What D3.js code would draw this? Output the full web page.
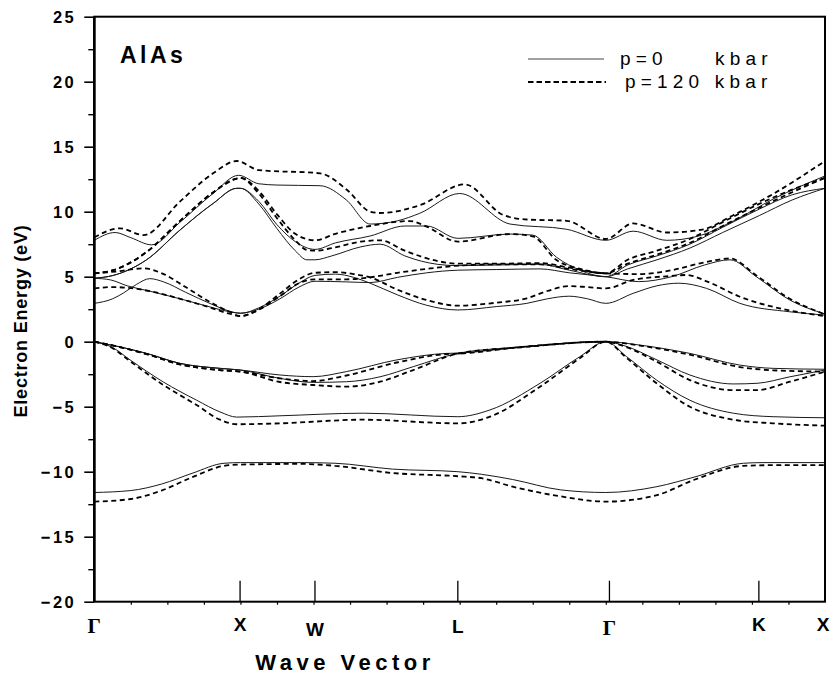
<!DOCTYPE html>
<html>
<head>
<meta charset="utf-8">
<script src="https://cdn.jsdelivr.net/npm/d3@7"></script>
<style>
  body { margin: 0; background: #fff; }
  text { font-family: "Liberation Sans", Arial, sans-serif; }
</style>
</head>
<body>
<script>
// symmetry points along the path (x in path units 0..20)
const kLabels = ["Γ", "X", "W", "L", "Γ", "K", "X"];
const kPos = [0, 3.99, 6.04, 9.95, 14.1, 18.19, 20];
const yTicks = [-20, -15, -10, -5, 0, 5, 10, 15, 20, 25];

// p = 0 kbar (solid) bands, [k, E(eV)]
const s_v1 = [[0,-11.6],[1.0,-11.45],[1.84,-10.95],[2.7,-10.1],[3.55,-9.35],[4.0,-9.3],[5.66,-9.3],[6.59,-9.35],[8.16,-9.8],[9.95,-10.0],[10.6,-10.2],[11.45,-10.6],[12.77,-11.4],[14.0,-11.6],[15.4,-11.15],[16.44,-10.4],[17.77,-9.35],[18.3,-9.3],[20,-9.3]];
const s_v2 = [[0,0],[0.5,-0.45],[0.98,-1.4],[1.89,-3.1],[2.8,-4.5],[3.44,-5.4],[3.9,-5.8],[5.08,-5.7],[7.36,-5.5],[9.95,-5.77],[10.83,-5.25],[12.2,-3.2],[13.29,-1.15],[14.0,0],[14.57,-1.15],[15.39,-2.95],[16.3,-4.5],[17.49,-5.5],[18.58,-5.77],[20,-5.85]];
const s_v3 = [[0,0],[0.7,-0.4],[1.43,-0.9],[2.35,-1.67],[3.44,-2.05],[4.0,-2.18],[5.08,-2.56],[5.99,-2.69],[6.9,-2.3],[8.28,-1.4],[9.65,-0.9],[9.95,-0.88],[11.73,-0.38],[14.0,0],[14.93,-0.26],[16.3,-0.9],[17.67,-1.8],[18.58,-2.05],[20,-2.12]];
const s_v4 = [[0,0],[0.7,-0.4],[1.43,-0.9],[2.35,-1.67],[3.44,-2.05],[4.0,-2.18],[5.08,-2.82],[5.99,-3.13],[6.9,-3.08],[7.82,-2.7],[8.73,-1.92],[9.95,-0.9],[11.73,-0.4],[14.0,0],[14.5,-0.3],[15.4,-1.4],[16.3,-2.56],[17.49,-3.25],[18.14,-3.2],[19.04,-2.7],[20,-2.18]];
const s_c1 = [[0,2.95],[0.5,3.3],[0.8,3.75],[1.15,4.4],[1.52,4.85],[1.9,4.6],[2.5,3.8],[3.2,2.9],[3.7,2.35],[4.0,2.18],[4.5,2.6],[5.08,3.5],[5.6,4.5],[6.04,5.1],[6.6,5.2],[7.1,4.95],[7.55,4.5],[8.3,3.6],[9.1,2.8],[9.95,2.44],[11.0,2.7],[11.84,2.95],[12.4,3.3],[13.0,3.5],[13.5,3.3],[14.0,2.95],[14.75,3.72],[15.4,4.3],[16.0,4.5],[16.76,4.1],[17.67,2.95],[19.04,2.3],[20,2.05]];
const s_c2 = [[0,4.88],[0.45,4.75],[0.9,4.3],[1.5,3.9],[2.35,3.3],[3.2,2.65],[3.7,2.3],[4.0,2.2],[4.5,2.5],[5.08,3.3],[5.6,4.2],[6.04,4.65],[6.9,4.6],[7.55,4.55],[8.3,4.95],[9.1,5.3],[9.95,5.5],[11.0,5.55],[12.2,5.6],[13.0,5.3],[14.0,5.0],[14.9,4.62],[15.8,5.0],[16.7,5.9],[17.4,6.3],[18.12,5.0],[19.04,3.2],[20,2.13]];
const s_c3 = [[0,4.88],[0.52,5.1],[1.43,6.3],[2.35,8.6],[3.26,10.65],[3.9,11.8],[4.0,11.8],[4.5,10.6],[5.0,8.7],[5.5,7.0],[5.82,6.3],[6.04,6.3],[6.5,6.6],[7.3,7.3],[7.82,7.5],[8.5,6.6],[9.4,5.95],[9.95,5.85],[11.0,5.9],[12.2,5.95],[13.0,5.5],[14.0,5.0],[14.6,5.6],[15.4,6.3],[16.3,7.2],[17.2,8.4],[18.2,9.7],[19.1,10.9],[20,11.8]];
const s_c4 = [[0,4.88],[0.52,5.1],[1.43,6.3],[2.35,8.6],[3.26,10.65],[3.9,11.8],[4.0,11.8],[4.5,10.8],[5.0,9.0],[5.5,7.7],[6.04,7.1],[6.6,7.6],[7.55,8.13],[8.5,8.9],[9.1,8.9],[9.95,7.95],[11.38,8.28],[12.0,8.2],[12.65,6.5],[13.3,5.5],[14.0,5.0],[14.6,5.9],[15.4,6.6],[16.3,7.5],[17.2,8.8],[18.2,10.2],[19.1,11.3],[20,11.8]];
const s_c5 = [[0,7.8],[0.57,8.4],[1.0,8.0],[1.57,7.45],[2.35,9.2],[3.25,11.4],[3.95,12.8],[4.5,12.15],[5.0,12.05],[6.18,12.0],[6.9,10.9],[7.55,9.05],[8.3,9.3],[8.91,9.88],[10.0,11.4],[11.38,9.05],[12.93,8.65],[14.0,7.8],[14.75,8.5],[15.67,7.8],[16.5,8.1],[17.5,9.3],[18.6,11.0],[20,12.75]];

// p = 120 kbar (dashed) bands
const d_v1 = [[0,-12.3],[1.0,-12.1],[1.84,-11.45],[2.7,-10.4],[3.55,-9.55],[4.0,-9.45],[5.66,-9.4],[6.59,-9.55],[8.16,-10.1],[9.95,-10.35],[10.6,-10.5],[11.45,-11.15],[12.77,-11.9],[14.0,-12.3],[15.4,-11.8],[16.44,-10.6],[17.77,-9.55],[18.5,-9.5],[20,-9.5]];
const d_v2 = [[0,0],[0.5,-0.5],[0.98,-1.5],[1.89,-3.33],[2.8,-4.87],[3.44,-6.0],[3.9,-6.35],[5.08,-6.28],[7.36,-6.0],[9.95,-6.28],[10.83,-5.77],[12.2,-3.46],[13.29,-1.27],[14.0,0],[14.57,-1.25],[15.39,-3.2],[16.3,-5.0],[17.49,-6.0],[18.58,-6.28],[20,-6.46]];
const d_v3 = [[0,0],[0.7,-0.42],[1.43,-0.95],[2.35,-1.75],[3.44,-2.18],[4.0,-2.3],[5.08,-2.82],[5.99,-3.03],[6.9,-2.6],[8.28,-1.6],[9.65,-0.95],[9.95,-0.92],[11.73,-0.4],[14.0,0],[14.93,-0.3],[16.3,-1.0],[17.67,-1.95],[18.58,-2.2],[20,-2.3]];
const d_v4 = [[0,0],[0.7,-0.42],[1.43,-0.95],[2.35,-1.75],[3.44,-2.18],[4.0,-2.3],[5.08,-3.1],[5.99,-3.33],[6.9,-3.46],[7.82,-3.08],[8.73,-2.18],[9.95,-0.92],[11.73,-0.42],[14.0,0],[14.5,-0.35],[15.4,-1.55],[16.3,-2.95],[17.49,-3.72],[18.14,-3.72],[19.04,-3.08],[20,-2.3]];
const d_c1 = [[0,4.1],[0.5,4.2],[0.9,4.15],[1.5,3.9],[2.35,3.3],[3.2,2.6],[3.7,2.15],[4.0,1.97],[4.5,2.5],[5.08,3.7],[5.6,4.8],[6.04,5.3],[6.6,5.35],[7.1,5.2],[7.55,4.95],[8.3,4.0],[9.1,3.2],[9.95,2.77],[11.0,3.0],[11.84,3.34],[12.4,3.9],[13.0,4.28],[13.5,4.2],[14.0,4.1],[14.75,4.75],[15.76,5.05],[16.2,5.13],[16.8,4.6],[17.67,3.46],[19.04,2.4],[20,1.97]];
const d_c2 = [[0,5.26],[0.6,5.4],[1.35,5.64],[1.9,5.2],[2.5,4.2],[3.2,3.0],[3.7,2.3],[4.0,1.97],[4.5,2.45],[5.08,3.5],[5.6,4.5],[6.04,4.8],[6.9,4.8],[7.55,4.95],[8.3,5.3],[9.1,5.6],[9.95,5.85],[11.0,5.95],[12.2,5.95],[13.0,5.6],[14.0,5.26],[14.9,5.2],[15.8,5.5],[16.7,6.1],[17.4,6.4],[18.12,5.1],[19.04,3.3],[20,2.1]];
const d_c3 = [[0,5.26],[0.52,5.5],[1.43,6.9],[2.35,9.3],[3.26,11.5],[3.9,12.55],[4.0,12.6],[4.5,11.4],[5.0,9.5],[5.5,7.8],[5.82,7.05],[6.04,7.0],[6.5,7.2],[7.3,7.7],[7.82,7.8],[8.5,7.0],[9.4,6.2],[9.95,6.0],[11.0,6.0],[12.2,6.05],[13.0,5.7],[14.0,5.26],[14.6,6.0],[15.4,6.7],[16.3,7.6],[17.2,8.9],[18.2,10.3],[19.1,11.5],[20,12.6]];
const d_c4 = [[0,5.26],[0.52,5.5],[1.43,6.9],[2.35,9.3],[3.26,11.5],[3.9,12.55],[4.0,12.6],[4.5,11.6],[5.0,9.8],[5.5,8.3],[6.04,7.8],[6.6,8.3],[7.55,8.9],[8.64,9.28],[9.1,8.85],[9.95,7.7],[11.38,8.28],[12.0,8.1],[12.65,6.28],[13.3,5.6],[14.0,5.26],[14.6,6.3],[15.4,7.0],[16.3,7.9],[17.2,9.2],[18.2,10.6],[19.1,11.7],[20,12.6]];
const d_c5 = [[0,8.03],[0.7,8.72],[1.35,8.2],[2.35,10.8],[3.25,12.95],[3.9,13.9],[4.5,13.2],[6.18,12.95],[6.92,11.67],[7.55,10.0],[7.82,9.9],[8.91,10.5],[10.14,12.1],[11.19,9.75],[11.84,9.4],[12.93,9.3],[14.0,7.9],[14.75,9.1],[15.67,8.4],[16.6,8.6],[17.5,9.75],[18.6,11.4],[20,13.9]];

const solidBands = [s_v1, s_v2, s_v3, s_v4, s_c1, s_c2, s_c3, s_c4, s_c5];
const dashedBands = [d_v1, d_v2, d_v3, d_v4, d_c1, d_c2, d_c3, d_c4, d_c5];

const width = 833, height = 687;
const plot = { left: 94.3, right: 825, top: 16.7, bottom: 601.7 };

const svg = d3.select("body").append("svg")
    .attr("width", width)
    .attr("height", height);

svg.append("rect").attr("width", width).attr("height", height).attr("fill", "#fff");

const x = d3.scaleLinear().domain([0, 20]).range([plot.left, plot.right]);
const y = d3.scaleLinear().domain([-20, 25]).range([plot.bottom, plot.top]);

svg.append("clipPath").attr("id", "clip")
  .append("rect")
    .attr("x", plot.left).attr("y", plot.top)
    .attr("width", plot.right - plot.left).attr("height", plot.bottom - plot.top);

const line = d3.line()
    .x(d => x(d[0]))
    .y(d => y(d[1]))
    .curve(d3.curveMonotoneX);

const bands = svg.append("g").attr("clip-path", "url(#clip)");

bands.selectAll("path.solid")
  .data(solidBands)
  .join("path")
    .attr("class", "solid")
    .attr("fill", "none")
    .attr("stroke", "#1a1a1a")
    .attr("stroke-width", 1)
    .attr("d", line);

bands.selectAll("path.dashed")
  .data(dashedBands)
  .join("path")
    .attr("class", "dashed")
    .attr("fill", "none")
    .attr("stroke", "#000")
    .attr("stroke-width", 1.8)
    .attr("stroke-dasharray", "5,3.5")
    .attr("d", line);

// left axis, major + minor ticks
const gy = svg.append("g")
    .attr("transform", "translate(" + plot.left + ",0)")
    .call(d3.axisLeft(y).tickValues(yTicks).tickSize(10).tickPadding(8));
gy.select(".domain").remove();
gy.selectAll(".tick line").attr("stroke", "#000").attr("stroke-width", 1.6);
gy.selectAll(".tick text")
    .attr("fill", "#000")
    .style("font-size", "16.5px")
    .style("font-weight", "bold")
    .style("letter-spacing", "2.5px")
    .attr("dy", "0.36em");

const gyMinor = svg.append("g")
    .attr("transform", "translate(" + plot.left + ",0)")
    .call(d3.axisLeft(y).tickValues(d3.range(-17.5, 25, 5)).tickSize(6).tickFormat(""));
gyMinor.select(".domain").remove();
gyMinor.selectAll(".tick line").attr("stroke", "#000").attr("stroke-width", 1.4);

// bottom minor ticks
const gx = svg.append("g")
    .attr("transform", "translate(0," + plot.bottom + ")")
    .call(d3.axisBottom(x).tickValues(d3.range(1, 20)).tickSize(3).tickFormat(""));
gx.select(".domain").remove();
gx.selectAll(".tick line").attr("stroke", "#000").attr("stroke-width", 1.2);

// frame
svg.append("rect")
    .attr("x", plot.left).attr("y", plot.top)
    .attr("width", plot.right - plot.left).attr("height", plot.bottom - plot.top)
    .attr("fill", "none").attr("stroke", "#000").attr("stroke-width", 2);
svg.append("line")
    .attr("x1", plot.left).attr("x2", plot.left)
    .attr("y1", plot.top).attr("y2", plot.bottom)
    .attr("stroke", "#000").attr("stroke-width", 2.6);

// symmetry point markers and labels
const labelDy = [2, 0, 5, 2, 4, 0, 0];
kPos.forEach((k, i) => {
  if (i > 0 && i < kPos.length - 1) {
    svg.append("line")
        .attr("x1", x(k)).attr("x2", x(k))
        .attr("y1", plot.bottom).attr("y2", plot.bottom - 21)
        .attr("stroke", "#000").attr("stroke-width", 1.3);
  }
  const isGamma = kLabels[i] === "Γ";
  svg.append("text")
      .attr("x", x(k) + (i === kPos.length - 1 ? -2 : 0))
      .attr("y", 631 + labelDy[i])
      .attr("text-anchor", "middle")
      .style("font-family", isGamma ? "'Liberation Serif', serif" : null)
      .style("font-size", isGamma ? "21px" : "19px")
      .style("font-weight", "bold")
      .text(kLabels[i]);
});

// titles
svg.append("text")
    .attr("x", 345).attr("y", 670)
    .attr("text-anchor", "middle")
    .style("font-size", "22px")
    .style("font-weight", "bold")
    .style("letter-spacing", "4.5px")
    .text("Wave Vector");

svg.append("text")
    .attr("transform", "translate(27,321) rotate(-90)")
    .attr("text-anchor", "middle")
    .style("font-size", "18px")
    .style("font-weight", "bold")
    .style("letter-spacing", "0.8px")
    .text("Electron Energy (eV)");

svg.append("text")
    .attr("x", 120).attr("y", 63)
    .style("font-size", "23px")
    .style("font-weight", "bold")
    .style("letter-spacing", "3.5px")
    .text("AlAs");

// legend
const legend = svg.append("g");
legend.append("line")
    .attr("x1", 528).attr("x2", 604).attr("y1", 59).attr("y2", 59)
    .attr("stroke", "#444").attr("stroke-width", 1);
legend.append("line")
    .attr("x1", 528).attr("x2", 606).attr("y1", 82).attr("y2", 82)
    .attr("stroke", "#000").attr("stroke-width", 2.2).attr("stroke-dasharray", "5.5,3");
[["p=0", 620, 65], ["kbar", 715, 65], ["p=120 kbar", 625, 88]].forEach(t => {
  legend.append("text")
      .attr("x", t[1]).attr("y", t[2])
      .style("font-size", "19px")
      .style("letter-spacing", "5.2px")
      .text(t[0]);
});
</script>
</body>
</html>
